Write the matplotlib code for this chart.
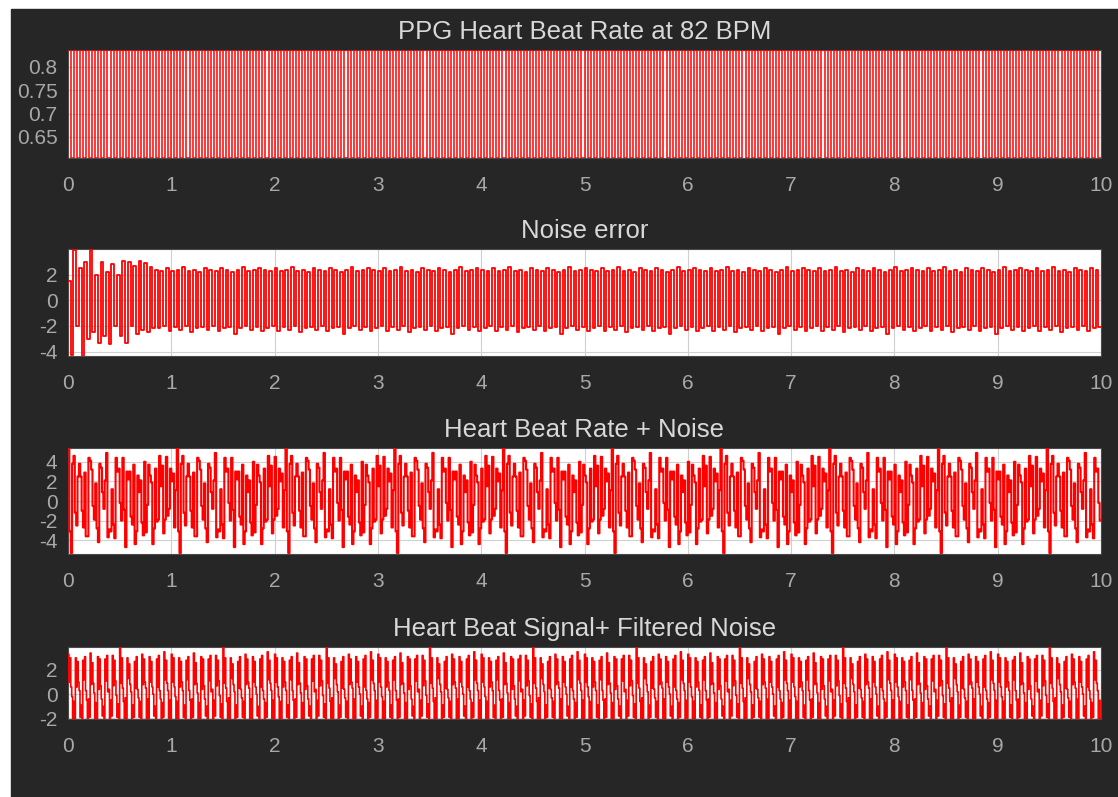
import matplotlib
matplotlib.use("Agg")
import matplotlib.pyplot as plt
import numpy as np

# time span of each record (s)
t_end = 10.0

# PPG trace: square-like swing between two levels
ppg_hi = [0.836]
ppg_lo = [0.605]
ppg_rate = 17          # cycles per second

# noise error: start-up transient, then a steady block
noise_start_hi = [1.5, 3.9, 2.5, 3.0, 3.9, 2.0, 3.0, 2.2, 2.8, 2.0, 3.1, 3.0, 2.7, 3.1, 2.9, 2.6]
noise_start_lo = [-4.3, -2.0, -4.4, -3.0, -2.5, -3.3, -2.8, -3.4, -2.0, -2.8, -3.3, -2.0, -2.6, -2.3, -2.5, -2.2]
noise_hi = [2.4, 2.3, 2.5, 2.3, 2.4, 2.6, 2.3, 2.4, 2.2, 2.5, 2.4, 2.3, 2.5, 2.4, 2.2, 2.4, 2.6, 2.3, 2.4, 2.5]
noise_lo = [-2.2, -2.0, -2.4, -2.1, -2.3, -2.0, -2.5, -2.2, -2.1, -2.3, -2.0, -2.4, -2.2, -2.1, -2.6, -2.2, -2.0, -2.3, -2.1, -2.4]
noise_rate = 19

# heart beat + noise: four samples per cycle
mix_a = [5.3, 4.6, 3.8, 2.9, 4.1, 1.8, 3.4, 4.9, 1.2, 3.0, 4.4, 2.2, 3.7, 0.9, 4.0, 2.6, 3.3, 1.5, 4.5, 2.0]
mix_b = [-3.1, -1.2, 2.5, -3.6, 3.2, -2.8, 0.9, -3.7, -2.4, 3.3, -0.9, 3.0, -4.4, 2.1, -3.2, 1.9, -2.1, 3.6, -1.5, 2.8]
mix_c = [-5.3, -2.5, -1.0, -3.6, -0.5, -4.2, -0.8, -2.9, -3.8, -0.2, -4.7, -1.6, -3.1, -2.2, -0.4, -4.4, -1.9, -3.3, -0.8, -2.7]
mix_d = [3.8, 2.5, -2.7, 4.4, -1.9, 3.8, 2.1, -3.1, 4.4, -2.0, 3.0, -2.4, 2.6, -3.5, 3.7, -2.8, 4.6, -1.9, 3.3, 1.1]
mix_rate = 19

# heart beat + filtered noise: eight samples per cycle
filt_a = [3.3, 3.0, 2.8, 3.4, 3.1, 2.9, 3.2, 3.9, 3.0, 2.7, 3.3, 3.1, 2.9, 3.5]
filt_b = [1.0, 0.6, 1.2, 0.8, 0.4, 1.1, 0.7, 0.9, 1.3, 0.5, 0.8, 1.0, 0.6, 1.2]
filt_c = [3.0, 2.7, 3.1, 2.6, 2.9, 3.2, 2.8, 3.0, 2.5, 3.1, 2.9, 2.7, 3.2, 2.8]
filt_d = [0.6, 1.0, 0.3, 0.9, 0.7, 0.2, 1.1, 0.5, 0.8, 0.4, 1.0, 0.6, 0.3, 0.9]
filt_e = [-0.2, 0.3, -0.5, 0.1, -0.4, 0.4, -0.1, -0.6, 0.2, -0.3, 0.5, 0.0, -0.4, 0.3]
filt_f = [-2.0, -1.9, -2.0, -2.0, -1.8, -2.0, -1.9, -2.0, -2.0, -1.9, -2.0, -1.8, -2.0, -2.0]
filt_g = [-0.6, -0.9, -0.4, -0.7, -1.0, -0.5, -0.8, -0.3, -0.9, -0.6, -0.4, -1.0, -0.7, -0.5]
filt_h = [-2.0, -2.0, -1.9, -2.0, -2.0, -1.8, -2.0, -2.0, -1.9, -2.0, -2.0, -2.0, -1.9, -2.0]
filt_rate = 14

titles = ["PPG Heart Beat Rate at 82 BPM", "Noise error",
          "Heart Beat Rate + Noise", "Heart Beat Signal+ Filtered Noise"]
xticks = list(range(0, 11))
yticks = [[0.65, 0.7, 0.75, 0.8], [-4, -2, 0, 2], [-4, -2, 0, 2, 4], [-2, 0, 2]]
ylims = [(0.605, 0.836), (-4.35, 4.0), (-5.4, 5.4), (-2.05, 3.9)]


def step_trace(columns, n_cycles):
    # interleave the per-cycle samples, repeat the block to fill the record
    block = np.column_stack([np.asarray(c, float) for c in columns]).ravel()
    reps = int(np.ceil(n_cycles * len(columns) / len(block)))
    y = np.tile(block, reps)[: n_cycles * len(columns)]
    y = np.append(y, y[-1])
    x = np.linspace(0, t_end, len(y))
    return x, y


n_ppg = int(ppg_rate * t_end)
ppg_x, ppg_y = step_trace([ppg_hi, ppg_lo], n_ppg)

n_noise = int(noise_rate * t_end)
start = np.column_stack([noise_start_hi, noise_start_lo]).ravel()
_, steady = step_trace([noise_hi, noise_lo], n_noise - len(noise_start_hi))
noise_y = np.concatenate([start, steady])
noise_x = np.linspace(0, t_end, len(noise_y))

mix_x, mix_y = step_trace([mix_a, mix_b, mix_c, mix_d], int(mix_rate * t_end))
filt_x, filt_y = step_trace([filt_a, filt_b, filt_c, filt_d, filt_e, filt_f, filt_g, filt_h],
                            int(filt_rate * t_end))

traces = [(ppg_x, ppg_y, 1.1), (noise_x, noise_y, 1.3),
          (mix_x, mix_y, 1.5), (filt_x, filt_y, 1.2)]

plt.rcParams["font.family"] = ["Liberation Sans", "DejaVu Sans"]
fig = plt.figure(figsize=(11.18, 7.97), dpi=100, facecolor="white")
W, H = 1118, 797
# dark figure panel behind the axes
fig.patches.append(plt.Rectangle((11 / W, 0), 1 - 11 / W, 1 - 9 / H,
                                 transform=fig.transFigure, color="#262626", zorder=-10))

# axes boxes in pixels: left, top, right, bottom
boxes = [(68, 50, 1101, 158), (68, 249, 1101, 356), (68, 448, 1101, 554), (68, 647, 1101, 719)]

for i, (l, t, r, b) in enumerate(boxes):
    ax = fig.add_axes([l / W, 1 - b / H, (r - l) / W, (b - t) / H])
    x, y, lw = traces[i]
    ax.plot(x, y, color="#ff0000", lw=lw, drawstyle="steps-post", zorder=3)
    ax.set_xlim(0, t_end)
    ax.set_ylim(*ylims[i])
    ax.set_xticks(xticks)
    ax.set_yticks(yticks[i])
    ax.set_yticklabels([("%g" % v) for v in yticks[i]])
    ax.set_facecolor("white")
    ax.grid(True, color="#d0d0d0", lw=0.8, zorder=1)
    ax.set_axisbelow(True)
    for s in ax.spines.values():
        s.set_color("#4a4a4a")
    ax.tick_params(colors="#a8a8a8", labelsize=15, length=0)
    ax.tick_params(axis="x", pad=13)
    ax.tick_params(axis="y", pad=7.5)
    ax.set_title(titles[i], color="#d8d8d8", fontsize=18.5, pad=8)

fig.savefig("out.png", dpi=100, facecolor=fig.get_facecolor())
